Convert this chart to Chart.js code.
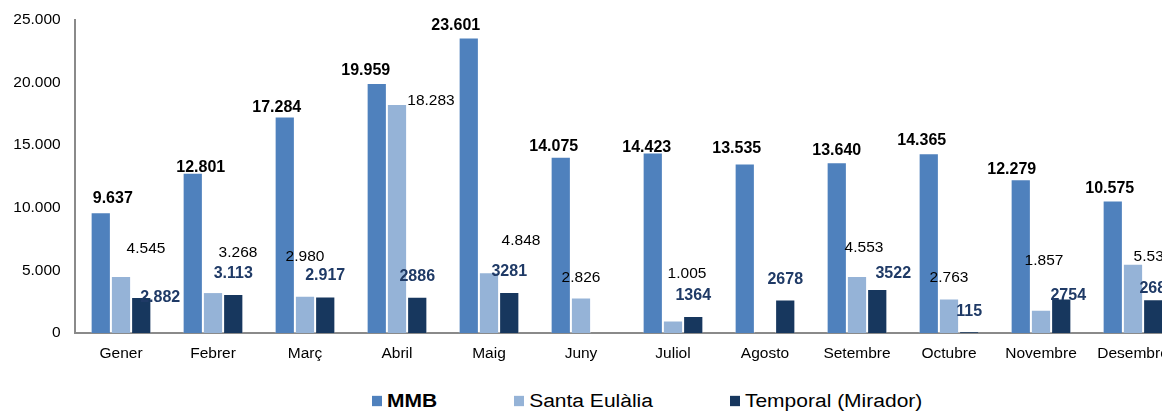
<!DOCTYPE html>
<html>
<head>
<meta charset="utf-8">
<script src="https://cdn.jsdelivr.net/npm/chart.js@4/dist/chart.umd.min.js"></script>
<style>
  html, body { margin: 0; padding: 0; background: #fff; overflow: hidden; }
  .wrap { position: relative; width: 1162px; height: 412px; overflow: hidden; }
  #visitors { position: absolute; left: 0; top: 0; }
  .legend {
    position: absolute; left: 372px; top: 389px;
    display: flex; align-items: center; gap: 77px;
    font-family: Arial, "Liberation Sans", sans-serif; font-size: 21px; color: #000;
    transform: scaleY(0.86); transform-origin: left center;
    line-height: 24px;
  }
  .legend .item { display: flex; align-items: center; }
  .legend .box { width: 10px; height: 12px; margin-right: 5px; }
</style>
</head>
<body>
<div class="wrap">
  <canvas id="visitors" width="1180" height="370"></canvas>
  <div class="legend">
    <div class="item"><span class="box" style="background:#4F81BD"></span><b>MMB</b></div>
    <div class="item"><span class="box" style="background:#95B3D7"></span>Santa Eulàlia</div>
    <div class="item"><span class="box" style="background:#17375E"></span>Temporal (Mirador)</div>
  </div>
</div>
<script>
const months = ['Gener', 'Febrer', 'Març', 'Abril', 'Maig', 'Juny', 'Juliol', 'Agosto', 'Setembre', 'Octubre', 'Novembre', 'Desembre']
const mmb = [9637, 12801, 17284, 19959, 23601, 14075, 14423, 13535, 13640, 14365, 12279, 10575]
const santaEulalia = [4545, 3268, 2980, 18283, 4848, 2826, 1005, null, 4553, 2763, 1857, 5530]
const temporal = [2882, 3113, 2917, 2886, 3281, null, 1364, 2678, 3522, 115, 2754, 2688]
const yTicks = [0, 5000, 10000, 15000, 20000, 25000]

// the temporal exhibition labels only use a thousands dot for the first months
const TEMPORAL_DOT_MONTHS = 3

// little nudges so the value labels don't sit on top of each other
const nudge = [
    { dx: [12, 8, -8, -11, -13, -7, -6, -8, 0, -7, -9, -3], dy: [-14, -5, -9, -13, -12, -10, -5, -15, -12, -13, -10, -12] },
    { dx: [25, 25, 0, 34, 32, 0, 14, 0, 7, 0, 3, 20], dy: [-27, -39, -39, -3, -32, -20, -47, 0, -28, -21, -49, -7] },
    { dx: [19, 0, 0, 0, 0, 0, 0, 0, 16, 0, 7, 4], dy: [1, -20, -21, -20, -20, 0, -20, -20, -15, -20, -3, -11] }
]

function dotted(v) {
    return String(v).replace(/\B(?=(\d{3})+(?!\d))/g, '.')
}

const labelStyle = [
    { font: 'bold 16px Arial, "Liberation Sans", sans-serif', color: '#000', fmt: (v) => dotted(v) },
    { font: '15.5px Arial, "Liberation Sans", sans-serif', color: '#000', fmt: (v) => dotted(v) },
    { font: 'bold 16px Arial, "Liberation Sans", sans-serif', color: '#1F3A66', fmt: (v, i) => i < TEMPORAL_DOT_MONTHS ? dotted(v) : String(v) }
]

const valueLabels = {
    id: 'valueLabels',
    afterDatasetsDraw(chart) {
        const ctx = chart.ctx
        ctx.save()
        ctx.textAlign = 'center'
        ctx.textBaseline = 'middle'
        chart.data.datasets.forEach((ds, d) => {
            const meta = chart.getDatasetMeta(d)
            meta.data.forEach((bar, i) => {
                const v = ds.data[i]
                if (v === null) return
                ctx.font = labelStyle[d].font
                ctx.fillStyle = labelStyle[d].color
                ctx.fillText(labelStyle[d].fmt(v, i), bar.x + nudge[d].dx[i], bar.y + nudge[d].dy[i])
            })
        })
        ctx.restore()
    }
}

Chart.defaults.font.family = 'Arial, "Liberation Sans", sans-serif'
Chart.defaults.color = '#000'

const ctx = document.getElementById('visitors').getContext('2d')
const visitorsChart = new Chart(ctx, {
    type: 'bar',
    data: {
        labels: months,
        datasets: [
            { label: 'MMB', data: mmb, backgroundColor: '#4F81BD' },
            { label: 'Santa Eulàlia', data: santaEulalia, backgroundColor: '#95B3D7' },
            { label: 'Temporal (Mirador)', data: temporal, backgroundColor: '#17375E' }
        ]
    },
    options: {
        responsive: false,
        animation: false,
        devicePixelRatio: 1,
        layout: { padding: { top: 20, left: 0, right: 1, bottom: 0 } },
        datasets: {
            bar: {
                categoryPercentage: 0.66,
                barPercentage: 1,
                borderWidth: 1,
                borderColor: 'rgba(255,255,255,0.35)'
            }
        },
        plugins: {
            legend: { display: false },
            tooltip: { enabled: false }
        },
        scales: {
            x: {
                grid: { display: false, drawTicks: false },
                border: { display: true, color: '#8a8a8a', width: 2 },
                ticks: { font: { size: 15.5 }, padding: 11, maxRotation: 0, autoSkip: false },
                afterFit(scale) { scale.height = 37 }
            },
            y: {
                min: 0,
                max: 25000,
                grid: { display: false, drawTicks: false },
                border: { display: true, color: '#8a8a8a', width: 2 },
                afterBuildTicks(scale) { scale.ticks = yTicks.map((v) => ({ value: v })) },
                // trailing space keeps the numbers off the axis line without growing the top padding
                ticks: { font: { size: 15.5 }, padding: 10, callback: (v) => dotted(v) + ' ' },
                afterFit(scale) { scale.width = 75 }
            }
        }
    },
    plugins: [valueLabels]
})
</script>
</body>
</html>
